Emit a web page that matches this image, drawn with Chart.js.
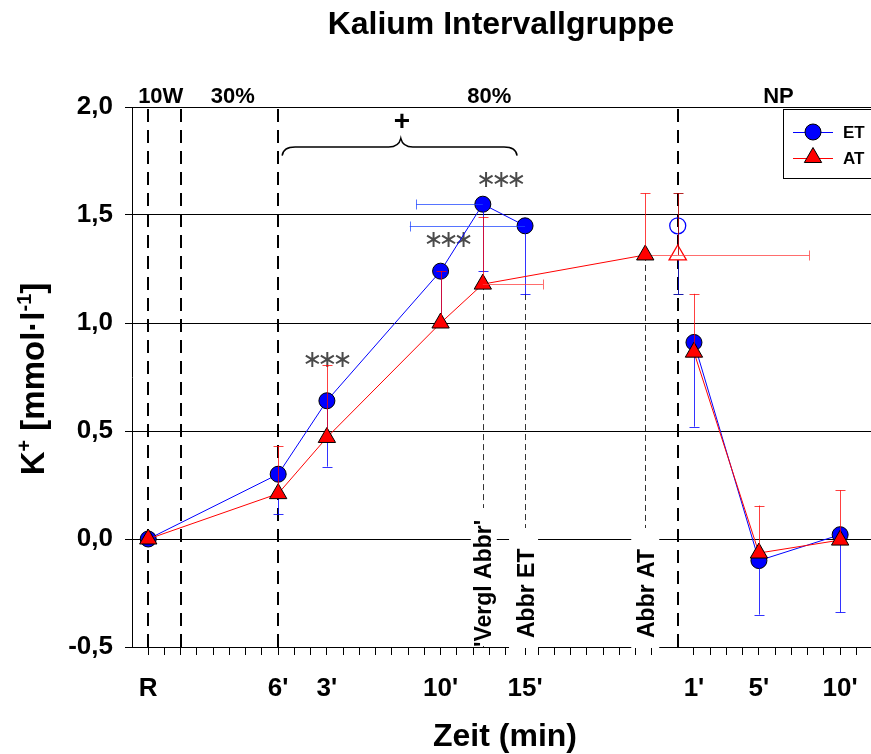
<!DOCTYPE html>
<html>
<head>
<meta charset="utf-8">
<script src="https://cdn.jsdelivr.net/npm/chart.js@4.4.0/dist/chart.umd.min.js"></script>
<style>
  body { margin: 0; background: #fff; }
</style>
</head>
<body>
<canvas id="chart" width="871" height="754"></canvas>
<script>
// Time axis: 1 unit = one minor tick
const tickLabels = ["R", "6'", "3'", "10'", "15'", "1'", "5'", "10'"];
const tickLabelPos = [0, 8, 11, 18, 23.2, 33.6, 37.6, 42.6];

// ET series (blue circles), error bars drawn downwards / to the left
const etX = [0, 8, 11, 18, 20.6, 23.2, 33.6, 37.6, 42.6];
const etY = [0.00, 0.30, 0.64, 1.24, 1.55, 1.45, 0.91, -0.10, 0.02];
const etErrDown = [0, 0.185, 0.305, 0.24, 0.31, 0.316, 0.39, 0.25, 0.36];
const etErrLeft = [0, 0, 0, 0, 4.1, 7.1, 0, 0, 0];

// AT series (red triangles), error bars drawn upwards / to the right
const atX = [0, 8, 11, 18, 20.6, 30.6, 33.6, 37.6, 42.6];
const atY = [0.00, 0.21, 0.47, 1.00, 1.18, 1.315, 0.865, -0.065, -0.005];
const atErrUp = [0, 0.22, 0.335, 0.24, 0.31, 0.285, 0.27, 0.22, 0.23];
const atErrRight = [0, 0, 0, 0, 3.7, 0, 0, 0, 0];

// values at abort, shown as open markers at the start of recovery
const openX = 32.6;
const etOpenY = 1.45, etOpenErrDown = 0.316;
const atOpenY = 1.315, atOpenErrUp = 0.285, atOpenErrLeft = 2.0, atOpenErrRight = 8.1;

// phases and annotations
const phaseLines = [0, 2, 8, 32.6];
const phaseLabels = ["10W", "30%", "80%", "NP"];
const phaseLabelPos = [0.77, 5.2, 21.0, 38.8];
const abbrLabels = ["'Vergl Abbr'", "Abbr ET", "Abbr AT"];
const abbrPos = [20.6, 23.2, 30.6];
const abbrFrom = [1.18, 1.134, 1.315];
const starX = [11, 18.46, 21.7];
const starY = [0.824, 1.38, 1.66];

const FONT = "'Liberation Sans', Arial, Helvetica, sans-serif";
const BLUE = "#0000ff";
const RED = "#ff0000";

// minor ticks: integer steps, then shifted after the axis break
const minorTicks = [];
for (let i = 0; i <= 31; i++) minorTicks.push(i === 23 ? 23.2 : i);
for (let i = 0; i <= 10; i++) minorTicks.push(33.6 + i);

function toPoints(xs, ys, breakAt) {
  const pts = [];
  xs.forEach((x, i) => {
    if (i > 0 && xs[i - 1] < breakAt && x > breakAt) pts.push({ x: breakAt, y: null });
    pts.push({ x: x, y: ys[i] });
  });
  return pts;
}

function crisp(v) { return Math.round(v) + 0.5; }

function vErr(ctx, xp, y0, y1, color) {
  xp = crisp(xp);
  ctx.strokeStyle = color;
  ctx.lineWidth = 1;
  ctx.beginPath();
  ctx.moveTo(xp, y0); ctx.lineTo(xp, y1);
  ctx.moveTo(xp - 5, crisp(y1)); ctx.lineTo(xp + 5, crisp(y1));
  ctx.stroke();
}

function hErr(ctx, x0, x1, yp, color) {
  yp = crisp(yp);
  ctx.strokeStyle = color;
  ctx.lineWidth = 1;
  ctx.beginPath();
  ctx.moveTo(x0, yp); ctx.lineTo(x1, yp);
  ctx.moveTo(crisp(x1), yp - 5); ctx.lineTo(crisp(x1), yp + 5);
  ctx.stroke();
}

// Error bars, drawn right after their own dataset
const errorBars = {
  id: "errorBars",
  afterDatasetDraw(chart, args) {
    const { ctx, scales: { x, y } } = chart;
    const px = v => x.getPixelForValue(v);
    const py = v => y.getPixelForValue(v);
    const blue = "rgba(0,0,255,0.8)";
    const red = "rgba(255,0,0,0.75)";
    ctx.save();
    if (args.index === 0) {
      etX.forEach((v, i) => {
        if (etErrDown[i] > 0) vErr(ctx, px(v), py(etY[i]), py(etY[i] - etErrDown[i]), blue);
        if (etErrLeft[i] > 0) hErr(ctx, px(v), px(v - etErrLeft[i]), py(etY[i]), "rgba(30,70,255,0.75)");
      });
    } else if (args.index === 1) {
      atX.forEach((v, i) => {
        if (atErrUp[i] > 0) vErr(ctx, px(v), py(atY[i]), py(atY[i] + atErrUp[i]), red);
        if (atErrRight[i] > 0) hErr(ctx, px(v), px(v + atErrRight[i]), py(atY[i]), "rgba(255,60,60,0.75)");
      });
    } else if (args.index === 2) {
      vErr(ctx, px(openX), py(etOpenY), py(etOpenY - etOpenErrDown), "rgba(0,0,160,0.9)");
    } else if (args.index === 3) {
      vErr(ctx, px(openX), py(atOpenY), py(atOpenY + atOpenErrUp), "rgba(170,0,0,0.85)");
      hErr(ctx, px(openX), px(openX + atOpenErrRight), py(atOpenY), "rgba(255,60,60,0.75)");
      hErr(ctx, px(openX), px(openX - atOpenErrLeft), py(atOpenY), "rgba(255,60,60,0.75)");
    }
    ctx.restore();
  }
};

// Phase lines, abort labels, brace and significance stars
const annotations = {
  id: "annotations",
  beforeDatasetsDraw(chart) {
    const { ctx, chartArea: a, scales: { x, y } } = chart;
    const px = v => x.getPixelForValue(v);
    const py = v => y.getPixelForValue(v);
    ctx.save();

    // thin dashed lines below the abort points
    ctx.setLineDash([6, 4]);
    ctx.lineWidth = 1;
    ctx.strokeStyle = "#333";
    abbrPos.forEach((p, i) => {
      const xp = crisp(px(p));
      ctx.beginPath(); ctx.moveTo(xp, py(abbrFrom[i])); ctx.lineTo(xp, a.bottom); ctx.stroke();
    });
    ctx.setLineDash([]);

    // white boxes behind the rotated labels
    ctx.fillStyle = "#fff";
    const boxes = [[-12, 14, 508, a.bottom - 1], [-16, 13, 528, a.bottom + 1], [-14, 14, 528, a.bottom + 1]];
    abbrPos.forEach((p, i) => {
      const b = boxes[i], xp = px(p);
      ctx.fillRect(xp + b[0], b[2], b[1] - b[0], b[3] - b[2]);
    });

    // rotated labels
    ctx.fillStyle = "#000";
    ctx.font = "bold 23px " + FONT;
    ctx.textAlign = "left";
    ctx.textBaseline = "alphabetic";
    const starts = [a.bottom, a.bottom - 9, a.bottom - 9];
    abbrLabels.forEach((t, i) => {
      ctx.save();
      ctx.translate(px(abbrPos[i]) + 8.5, starts[i]);
      ctx.rotate(-Math.PI / 2);
      ctx.fillText(t, 0, 0);
      ctx.restore();
    });

    // thick dashed phase lines
    ctx.setLineDash([13, 8]);
    ctx.lineWidth = 2;
    ctx.strokeStyle = "#000";
    phaseLines.forEach(p => {
      const xp = Math.round(px(p));
      ctx.beginPath(); ctx.moveTo(xp, a.top + 2); ctx.lineTo(xp, a.bottom); ctx.stroke();
    });
    ctx.setLineDash([]);

    // phase labels above the plot
    ctx.font = "bold 22px " + FONT;
    ctx.textAlign = "center";
    phaseLabels.forEach((t, i) => ctx.fillText(t, px(phaseLabelPos[i]), a.top - 4));

    // brace over the 80% stage
    const xl = px(8) + 4, xr = px(23.2) - 8, xm = px(15.55);
    const yb = py(1.775), yf = py(1.815), yt = py(1.855);
    ctx.lineWidth = 1.5;
    ctx.beginPath();
    ctx.moveTo(xl, yb);
    ctx.quadraticCurveTo(xl + 1, yf, xl + 13, yf);
    ctx.lineTo(xm - 12, yf);
    ctx.quadraticCurveTo(xm - 2, yf, xm, yt);
    ctx.quadraticCurveTo(xm + 2, yf, xm + 12, yf);
    ctx.lineTo(xr - 13, yf);
    ctx.quadraticCurveTo(xr - 1, yf, xr, yb);
    ctx.stroke();
    ctx.font = "bold 28px " + FONT;
    ctx.textBaseline = "middle";
    ctx.fillText("+", xm + 1, py(1.93));

    // significance stars
    ctx.fillStyle = "#4a4a4a";
    ctx.font = "24px 'DejaVu Sans', sans-serif";
    ctx.letterSpacing = "-5px";
    starX.forEach((v, i) => ctx.fillText("∗∗∗", px(v) - 2, py(starY[i])));
    ctx.letterSpacing = "0px";
    ctx.restore();
  },
  afterDraw(chart) {
    const { ctx } = chart;
    ctx.save();
    ctx.fillStyle = "#000";
    ctx.textBaseline = "alphabetic";

    // title
    ctx.font = "bold 32px " + FONT;
    ctx.textAlign = "center";
    ctx.fillText("Kalium Intervallgruppe", 501, 34);

    // x axis title
    ctx.fillText("Zeit (min)", 505, 746);

    // y axis title with superscripts
    const big = "bold 33px " + FONT, small = "bold 20px " + FONT;
    const parts = [["K", big, 0], ["+", small, -13], [" [mmol·l", big, 0], ["-1", small, -13], ["]", big, 0]];
    let total = 0;
    parts.forEach(p => { ctx.font = p[1]; total += ctx.measureText(p[0]).width; });
    ctx.translate(44, 379);
    ctx.rotate(-Math.PI / 2);
    ctx.textAlign = "left";
    let cx = -total / 2;
    parts.forEach(p => {
      ctx.font = p[1];
      ctx.fillText(p[0], cx, p[2]);
      cx += ctx.measureText(p[0]).width;
    });
    ctx.restore();

    // legend
    ctx.save();
    const lx = 783, ly = 110;
    ctx.fillStyle = "#fff";
    ctx.fillRect(lx, ly, 100, 68);
    ctx.strokeStyle = "#000";
    ctx.lineWidth = 1;
    ctx.strokeRect(lx + 0.5, ly - 0.5, 100, 69);
    const items = [["ET", BLUE, "circle", 8, 132], ["AT", RED, "triangle", 10, 157.5]];
    items.forEach(it => {
      ctx.strokeStyle = it[1];
      ctx.beginPath(); ctx.moveTo(lx + 10, crisp(it[4])); ctx.lineTo(lx + 50, crisp(it[4])); ctx.stroke();
      ctx.fillStyle = it[1];
      ctx.strokeStyle = "#000";
      Chart.helpers.drawPoint(ctx, { pointStyle: it[2], radius: it[3], borderWidth: 1 }, lx + 30, it[4]);
      ctx.fillStyle = "#000";
      ctx.font = "bold 17px " + FONT;
      ctx.fillText(it[0], lx + 60, it[4] + 6);
    });
    ctx.restore();
  }
};

const ctx = document.getElementById("chart").getContext("2d");

new Chart(ctx, {
  type: "line",
  data: {
    datasets: [
      {
        label: "ET",
        data: toPoints(etX, etY, 32),
        borderColor: BLUE,
        borderWidth: 1,
        pointStyle: "circle",
        pointRadius: 8,
        pointBackgroundColor: BLUE,
        pointBorderColor: "#000",
        pointBorderWidth: 1,
        spanGaps: false,
        order: 2,
      },
      {
        label: "AT",
        data: toPoints(atX, atY, 32),
        borderColor: RED,
        borderWidth: 1,
        pointStyle: "triangle",
        pointRadius: 10,
        pointBackgroundColor: RED,
        pointBorderColor: "#000",
        pointBorderWidth: 1,
        spanGaps: false,
        order: 1,
      },
      {
        label: "ET Abbr",
        data: [{ x: openX, y: etOpenY }],
        showLine: false,
        pointStyle: "circle",
        pointRadius: 8,
        pointBackgroundColor: "rgba(255,255,255,0)",
        pointBorderColor: BLUE,
        pointBorderWidth: 1.3,
        order: 4,
      },
      {
        label: "AT Abbr",
        data: [{ x: openX, y: atOpenY }],
        showLine: false,
        pointStyle: "triangle",
        pointRadius: 10,
        pointBackgroundColor: "#fff",
        pointBorderColor: RED,
        pointBorderWidth: 1.3,
        order: 3,
      },
    ],
  },
  options: {
    responsive: false,
    devicePixelRatio: 1,
    animation: false,
    layout: { autoPadding: false, padding: { top: 107, left: 0, right: 0, bottom: 0 } },
    plugins: {
      legend: { display: false },
      tooltip: { enabled: false },
      title: { display: false },
    },
    scales: {
      x: {
        type: "linear",
        min: -1,
        max: 44.5,
        afterBuildTicks: (scale) => {
          scale.ticks = minorTicks.map(v => ({ value: v }));
        },
        afterFit: (scale) => {
          scale.height = 107;
          scale.paddingLeft = 0;
          scale.paddingRight = 0;
        },
        ticks: {
          autoSkip: false,
          maxRotation: 0,
          padding: 18,
          color: "#000",
          font: { family: FONT, size: 26, weight: "bold" },
          callback: (v) => {
            const i = tickLabelPos.findIndex(p => Math.abs(p - v) < 1e-6);
            return i >= 0 ? tickLabels[i] : "";
          },
        },
        grid: { drawOnChartArea: false, color: "#000", tickLength: 8 },
        border: { color: "#000", width: 1 },
      },
      y: {
        min: -0.5,
        max: 2.0,
        afterFit: (scale) => {
          scale.width = 132;
          scale.paddingTop = 0;
          scale.paddingBottom = 0;
        },
        ticks: {
          stepSize: 0.5,
          padding: 12,
          color: "#000",
          font: { family: FONT, size: 26, weight: "bold" },
          callback: (v) => v.toFixed(1).replace(".", ","),
        },
        grid: { color: "#000", lineWidth: 1, tickLength: 7 },
        border: { color: "#000", width: 1 },
      },
    },
  },
  plugins: [annotations, errorBars],
});
</script>
</body>
</html>
